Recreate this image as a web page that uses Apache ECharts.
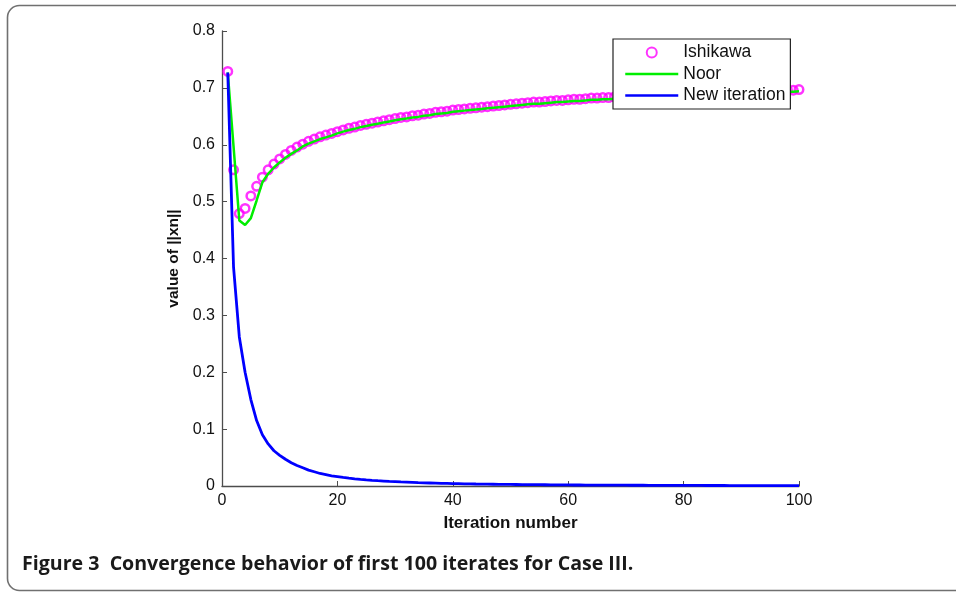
<!DOCTYPE html>
<html>
<head>
<meta charset="utf-8">
<script src="https://cdn.jsdelivr.net/npm/echarts@6/dist/echarts.min.js"></script>
<style>
  html, body { margin: 0; padding: 0; background: #fff; }
  #chart { width: 956px; height: 593px; }
</style>
</head>
<body>
<div id="chart"></div>
<script>
// iterate index 1..100
const iterations = Array.from({ length: 100 }, (_, i) => i + 1);

const ishikawa = [
  0.729, 0.556, 0.479, 0.488, 0.510, 0.527, 0.543, 0.556, 0.566, 0.575,
  0.583, 0.590, 0.596, 0.601, 0.606, 0.610, 0.614, 0.617, 0.620, 0.623,
  0.626, 0.629, 0.631, 0.634, 0.636, 0.638, 0.640, 0.642, 0.644, 0.646,
  0.648, 0.649, 0.651, 0.652, 0.654, 0.655, 0.657, 0.658, 0.659, 0.661,
  0.662, 0.663, 0.664, 0.665, 0.666, 0.667, 0.668, 0.669, 0.670, 0.671,
  0.672, 0.673, 0.674, 0.675, 0.675, 0.676, 0.677, 0.678, 0.678, 0.679,
  0.680, 0.680, 0.681, 0.682, 0.682, 0.683, 0.683, 0.684, 0.684, 0.685,
  0.685, 0.686, 0.686, 0.687, 0.687, 0.688, 0.688, 0.689, 0.689, 0.690,
  0.690, 0.690, 0.691, 0.691, 0.692, 0.692, 0.692, 0.693, 0.693, 0.693,
  0.694, 0.694, 0.694, 0.695, 0.695, 0.695, 0.696, 0.696, 0.696, 0.697
];

const noor = [
  0.727, 0.597, 0.467, 0.459, 0.471, 0.502, 0.534, 0.549, 0.560, 0.569,
  0.577, 0.584, 0.590, 0.597, 0.602, 0.606, 0.610, 0.613, 0.616, 0.620,
  0.623, 0.626, 0.628, 0.631, 0.633, 0.635, 0.637, 0.639, 0.641, 0.643,
  0.645, 0.646, 0.648, 0.649, 0.651, 0.652, 0.654, 0.655, 0.656, 0.658,
  0.659, 0.660, 0.661, 0.662, 0.663, 0.664, 0.665, 0.666, 0.667, 0.668,
  0.669, 0.670, 0.671, 0.672, 0.672, 0.673, 0.674, 0.675, 0.675, 0.676,
  0.677, 0.677, 0.678, 0.679, 0.679, 0.680, 0.680, 0.681, 0.681, 0.682,
  0.682, 0.683, 0.683, 0.684, 0.684, 0.685, 0.685, 0.686, 0.686, 0.687,
  0.687, 0.687, 0.688, 0.688, 0.689, 0.689, 0.689, 0.690, 0.690, 0.690,
  0.691, 0.691, 0.691, 0.692, 0.692, 0.692, 0.693, 0.693, 0.693, 0.694
];

const newIteration = [
  0.727, 0.385, 0.262, 0.200, 0.152, 0.115, 0.090, 0.074, 0.062, 0.054,
  0.047, 0.041, 0.036, 0.032, 0.028, 0.025, 0.022, 0.020, 0.018, 0.0165,
  0.0150, 0.0138, 0.0127, 0.0117, 0.0108, 0.0100, 0.0093, 0.0087, 0.0081, 0.0076,
  0.0071, 0.0067, 0.0063, 0.0059, 0.0056, 0.0053, 0.0050, 0.0047, 0.0045, 0.0043,
  0.0041, 0.0039, 0.0037, 0.0035, 0.0034, 0.0032, 0.0031, 0.0030, 0.0028, 0.0027,
  0.0026, 0.0025, 0.0024, 0.0023, 0.0023, 0.0022, 0.0021, 0.0020, 0.0020, 0.0019,
  0.0018, 0.0018, 0.0017, 0.0017, 0.0016, 0.0016, 0.0015, 0.0015, 0.0014, 0.0014,
  0.0013, 0.0013, 0.0013, 0.0012, 0.0012, 0.0012, 0.0011, 0.0011, 0.0011, 0.0010,
  0.0010, 0.0010, 0.0010, 0.0009, 0.0009, 0.0009, 0.0009, 0.0008, 0.0008, 0.0008,
  0.0008, 0.0008, 0.0007, 0.0007, 0.0007, 0.0007, 0.0007, 0.0006, 0.0006, 0.0006
];

const pairs = (vals) => vals.map((v, i) => [iterations[i], v]);

const axisColor = '#4d4d4d';
const textFont = '"Liberation Sans", Arial, sans-serif';

const chart = echarts.init(document.getElementById('chart'));

chart.setOption({
  animation: false,
  backgroundColor: '#fff',
  grid: { left: 222, right: 157, top: 31, bottom: 107, containLabel: false },
  graphic: [
    {
      type: 'rect',
      shape: { x: 7.5, y: 5.5, width: 980, height: 585, r: 12 },
      style: { fill: 'none', stroke: '#707070', lineWidth: 1.6 },
      silent: true
    },
    {
      type: 'text',
      left: 22,
      top: 554,
      style: {
        text: 'Figure 3  Convergence behavior of first 100 iterates for Case III.',
        font: 'bold 19.6px "Open Sans", sans-serif',
        fill: '#1a1a1a'
      }
    }
  ],
  legend: {
    left: 613,
    top: 39,
    orient: 'vertical',
    backgroundColor: '#fff',
    borderColor: '#222',
    borderWidth: 1.2,
    borderRadius: 0,
    padding: [3, 5, 3, 11],
    itemWidth: 53,
    itemHeight: 10,
    itemGap: 0.5,
    lineStyle: { width: 2.5 },
    textStyle: { fontFamily: textFont, fontSize: 17.5, color: '#111', lineHeight: 21 },
    data: [
      { name: 'Ishikawa' },
      { name: 'Noor', itemStyle: { opacity: 0 } },
      { name: 'New iteration', itemStyle: { opacity: 0 } }
    ]
  },
  xAxis: {
    type: 'value',
    min: 0,
    max: 100,
    interval: 20,
    name: 'Iteration number',
    nameLocation: 'middle',
    nameGap: 29,
    nameTextStyle: { fontFamily: textFont, fontSize: 17, fontWeight: 'bold', color: '#111' },
    splitLine: { show: false },
    axisLine: { onZero: false, lineStyle: { color: axisColor, width: 1.3 } },
    axisTick: { inside: true, length: 5, lineStyle: { color: axisColor } },
    axisLabel: { fontFamily: textFont, fontSize: 16, color: '#111', margin: 7 }
  },
  yAxis: {
    type: 'value',
    min: 0,
    max: 0.8,
    interval: 0.1,
    name: 'value of ||xn||',
    nameLocation: 'middle',
    nameGap: 40,
    nameTextStyle: { fontFamily: textFont, fontSize: 15.5, fontWeight: 'bold', color: '#111' },
    splitLine: { show: false },
    axisLine: { show: true, lineStyle: { color: axisColor, width: 1.3 } },
    axisTick: { show: true, inside: true, length: 5, lineStyle: { color: axisColor } },
    axisLabel: { fontFamily: textFont, fontSize: 16, color: '#111', margin: 7 }
  },
  series: [
    {
      name: 'Ishikawa',
      type: 'scatter',
      data: pairs(ishikawa),
      symbol: 'circle',
      symbolSize: 8.5,
      itemStyle: { color: 'rgba(0,0,0,0)', borderColor: '#ff00ff', borderWidth: 2.5 },
      z: 2
    },
    {
      name: 'Noor',
      type: 'line',
      data: pairs(noor),
      showSymbol: false,
      symbol: 'none',
      color: '#00ee00',
      lineStyle: { color: '#00ee00', width: 2.5 },
      z: 3
    },
    {
      name: 'New iteration',
      type: 'line',
      data: pairs(newIteration),
      showSymbol: false,
      symbol: 'none',
      color: '#0000ff',
      lineStyle: { color: '#0000ff', width: 2.8 },
      z: 4
    }
  ]
});
</script>
</body>
</html>
